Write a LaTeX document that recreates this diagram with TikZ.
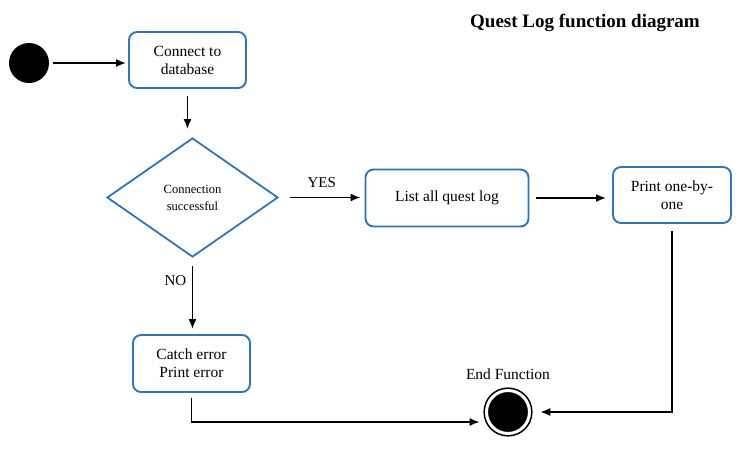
\documentclass[tikz,border=0pt]{standalone}
\usepackage{fontspec}
\setmainfont{Liberation Serif}
\usetikzlibrary{shapes.geometric,arrows.meta}
\definecolor{boxblue}{RGB}{46,117,182}

\tikzset{
    etape/.style={draw=boxblue, line width=1.9pt, rounded corners=8pt, align=center,
        font=\fontsize{15.5}{18}\selectfont},
    fleche/.style={line width=1.7pt, -{Latex[length=10pt,width=8pt]}},
}

\begin{document}
\begin{tikzpicture}[x=1pt,y=-1pt]
    \useasboundingbox (0,0) rectangle (748,456);

    % Titre
    \node[font=\bfseries\fontsize{19}{22}\selectfont] (titre) at (585,23) {Quest Log function diagram};

    % Debut et fin
    \node[circle, fill=black, minimum size=40pt, inner sep=0pt] (debut) at (29,63) {};
    \node[circle, fill=black, draw=black, line width=1.6pt, double=white, double distance=3pt,
        minimum size=43pt, inner sep=0pt,
        label={[font=\fontsize{15.5}{18}\selectfont, label distance=7pt]above:End Function}] (fin) at (508,412) {};

    % Etapes
    \node[etape, minimum width=117pt, minimum height=56pt] (connect) at (187.5,60) {Connect to\\database};
    \node[diamond, draw=boxblue, line width=1.8pt, minimum width=171pt, minimum height=119pt, inner sep=0pt,
        align=center, font=\fontsize{12.5}{17}\selectfont] (succes) at (192.5,197.5) {Connection\\successful};
    \node[etape, minimum width=163pt, minimum height=57pt] (liste) at (447,198) {List all quest log};
    \node[etape, minimum width=118pt, minimum height=56pt] (affiche) at (672,195) {Print one-by-\\one};
    \node[etape, minimum width=117pt, minimum height=57pt] (erreur) at (191.5,363.5) {Catch error\\Print error};

    % Fleches
    \draw[fleche, shorten <=4pt, shorten >=2pt] (debut) -- (debut -| connect.west);
    \draw[fleche, shorten <=7pt, shorten >=8pt] (connect.south) -- (connect.south |- succes.north);
    \draw[fleche, shorten <=11pt, shorten >=4pt] (succes.east) -- node[above, font=\fontsize{15}{18}\selectfont, yshift=6pt] {YES} (succes.east -| liste.west);
    \draw[fleche, shorten <=7pt, shorten >=6pt] (liste.east) -- (liste.east -| affiche.west);
    \draw[fleche, shorten <=8pt, shorten >=5pt] (succes.south) -- node[pos=0.3, left, font=\fontsize{15}{18}\selectfont, xshift=-2pt] {NO} (succes.south |- erreur.north);
    \draw[fleche, shorten <=7pt, shorten >=10pt] (affiche.south) |- (fin.east);
    \draw[fleche, shorten <=5pt, shorten >=6pt] (erreur.south) |- ([yshift=-10pt]fin.west);
\end{tikzpicture}
\end{document}
